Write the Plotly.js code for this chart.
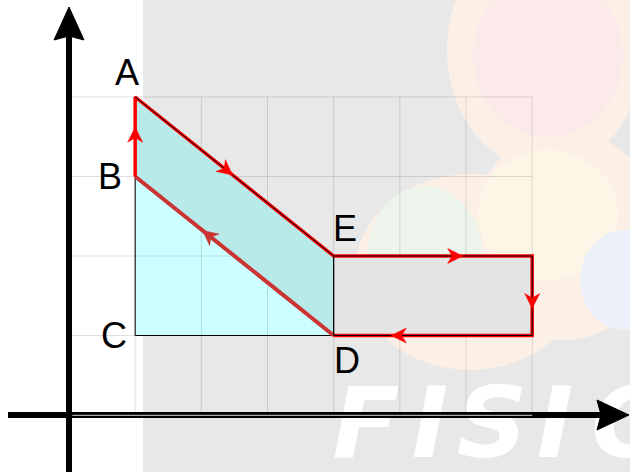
<!DOCTYPE html>
<html>
<head>
<meta charset="utf-8">
<script src="https://cdn.plot.ly/plotly-3.0.1.min.js"></script>
<style>
  html, body { margin: 0; padding: 0; background: #fff; }
  #chart { width: 630px; height: 472px; }
</style>
</head>
<body>
<div id="chart"></div>
<script>
// Cycle B -> A -> E -> F -> G -> D -> back to B (diagram units)
const cycleX = [1, 1, 4, 7, 7, 4];
const cycleY = [3, 4, 2, 2, 1, 1];
// where the direction arrow sits on each leg (fraction of the leg)
const arrowAt = [0.62, 0.49, 0.65, 0.66, 0.71, 0.66];

// labelled states
const labelNames = ['A', 'B', 'C', 'D', 'E'];
const labelX = [1, 1, 1, 4, 4];
const labelY = [4, 3, 1, 1, 2];

// grid
const gridX = [1, 2, 3, 4, 5, 6, 7];
const gridY = [1, 2, 3, 4];

// watermark
const wmLetters = ['F', 'I', 'S', 'I', 'C'];

// page geometry: pixels per unit and where the origin is
const W = 630, H = 472;
const X0 = 69, PX = 66.17, Y0 = 415, PY = 79.5;
const xRange = [-X0 / PX, (W - X0) / PX];
const yRange = [-(H - Y0) / PY, Y0 / PY];

const toX = px => (px - X0) / PX;
const toY = py => (Y0 - py) / PY;

// barbed arrow head, tip at (tx, ty), direction (ux, uy) in screen pixels (y up)
function head(tx, ty, ux, uy, len, half, notch) {
  const n = Math.hypot(ux, uy);
  ux /= n; uy /= n;
  const nx = -uy, ny = ux;
  const pts = [
    [0, 0],
    [-ux * len + nx * half, -uy * len + ny * half],
    [-ux * (len - notch), -uy * (len - notch)],
    [-ux * len - nx * half, -uy * len - ny * half],
    [0, 0]
  ];
  return {
    x: pts.map(p => tx + p[0] / PX),
    y: pts.map(p => ty + p[1] / PY)
  };
}

const idx = name => labelNames.indexOf(name);
const P = name => [labelX[idx(name)], labelY[idx(name)]];
const F = [cycleX[3], cycleY[3]], G = [cycleX[4], cycleY[4]];
const A = P('A'), B = P('B'), C = P('C'), D = P('D'), E = P('E');

const traces = [];

// watermark text (under everything else)
const wmPx = [366, 430, 492, 555, 627];
traces.push({
  x: wmPx.map(toX), y: wmLetters.map(() => toY(432)),
  mode: 'text', text: wmLetters, type: 'scatter', hoverinfo: 'skip',
  textfont: { family: 'DejaVu Sans', size: 98, color: '#ffffff', weight: 'bold', style: 'italic' },
  textposition: 'middle center'
});

// lower region B-C-D
traces.push({
  x: [B[0], C[0], D[0], B[0]], y: [B[1], C[1], D[1], B[1]],
  type: 'scatter', mode: 'lines', fill: 'toself', fillcolor: '#ccffff',
  line: { color: '#000000', width: 1 }, hoverinfo: 'skip'
});

// grid
const gx = [], gy = [];
gridX.forEach(v => { gx.push(v, v, null); gy.push(0, gridY[gridY.length - 1], null); });
gridY.forEach(v => { gx.push(0, gridX[gridX.length - 1], null); gy.push(v, v, null); });
traces.push({
  x: gx, y: gy, type: 'scatter', mode: 'lines',
  line: { color: 'rgba(0,0,0,0.13)', width: 1 }, hoverinfo: 'skip'
});

// parallelogram A-E-D-B
traces.push({
  x: [A[0], E[0], D[0], B[0], A[0]], y: [A[1], E[1], D[1], B[1], A[1]],
  type: 'scatter', mode: 'lines', fill: 'toself', fillcolor: '#b8eaea',
  line: { color: '#000000', width: 1 }, hoverinfo: 'skip'
});

// rectangle E-F-G-D
traces.push({
  x: [E[0], F[0], G[0], D[0], E[0]], y: [E[1], F[1], G[1], D[1], E[1]],
  type: 'scatter', mode: 'lines', fill: 'toself', fillcolor: '#e4e4e4',
  line: { color: '#000000', width: 1 }, hoverinfo: 'skip'
});

// axes
const yTop = toY(7), xRight = toX(629);
traces.push({
  x: [0, 0, null, toX(8), xRight - 20 / PX], y: [yRange[0], yTop - 20 / PY, null, 0, 0],
  type: 'scatter', mode: 'lines', line: { color: '#000000', width: 6 }, hoverinfo: 'skip'
});
[head(0, yTop, 0, 1, 33, 15, 4), head(xRight, 0, 1, 0, 32, 15, 4)].forEach(h => traces.push({
  x: h.x, y: h.y, type: 'scatter', mode: 'lines', fill: 'toself', fillcolor: '#000000',
  line: { color: '#000000', width: 1 }, hoverinfo: 'skip'
}));
// bottom grid line over the x axis
traces.push({
  x: [0.05, gridX[gridX.length - 1]], y: [-0.004, -0.004], type: 'scatter', mode: 'lines',
  line: { color: '#cfcfcf', width: 1 }, hoverinfo: 'skip'
});

// cycle path
const n = cycleX.length;
traces.push({
  x: [cycleX[n - 1], cycleX[0]], y: [cycleY[n - 1], cycleY[0]],
  type: 'scatter', mode: 'lines', line: { color: '#cc3333', width: 4 }, hoverinfo: 'skip'
});
traces.push({
  x: cycleX, y: cycleY, type: 'scatter', mode: 'lines',
  line: { color: '#ff0000', width: 3.5 }, hoverinfo: 'skip'
});
traces.push({
  x: [A[0], E[0], F[0], G[0], D[0], E[0]], y: [A[1], E[1], F[1], G[1], D[1], E[1]],
  type: 'scatter', mode: 'lines', line: { color: '#000000', width: 1 }, hoverinfo: 'skip'
});

for (let i = 0; i < n; i++) {
  const j = (i + 1) % n;
  const f = arrowAt[i];
  const tx = cycleX[i] + (cycleX[j] - cycleX[i]) * f;
  const ty = cycleY[i] + (cycleY[j] - cycleY[i]) * f;
  const h = head(tx, ty, (cycleX[j] - cycleX[i]) * PX, (cycleY[j] - cycleY[i]) * PY, 15, 7.5, 4.5);
  const col = j === 0 ? '#cc3333' : '#ff0000';
  traces.push({
    x: h.x, y: h.y, type: 'scatter', mode: 'lines', fill: 'toself', fillcolor: col,
    line: { color: col, width: 0.5 }, hoverinfo: 'skip'
  });
}

// state labels
const shifts = { A: [-8, 25], B: [-25, 0], C: [-21, 0], D: [13, -25], E: [11, 28] };
const annotations = labelNames.map((name, i) => ({
  x: labelX[i], y: labelY[i], xref: 'x', yref: 'y', text: name, showarrow: false,
  xshift: shifts[name][0], yshift: shifts[name][1],
  font: { family: 'Liberation Sans, Arial, sans-serif', size: 36, color: '#000000' }
}));

// watermark background and logo blobs (screen pixels)
const ell = (cx, cy, rx, ry, color) => ({
  type: 'circle', xref: 'paper', yref: 'paper', layer: 'below',
  x0: (cx - rx) / W, x1: (cx + rx) / W, y0: 1 - (cy + ry) / H, y1: 1 - (cy - ry) / H,
  fillcolor: color, line: { width: 0 }
});
const shapes = [
  { type: 'rect', xref: 'paper', yref: 'paper', layer: 'below', x0: 143 / W, x1: 1, y0: 0, y1: 1,
    fillcolor: '#e8e8e8', line: { width: 0 } },
  ell(545, 50, 98, 120, '#fcf0e6'),
  ell(470, 272, 115, 98, '#fcf0e6'),
  ell(565, 235, 95, 105, '#fcf0e6'),
  ell(548, 55, 75, 82, '#fbeae9'),
  ell(548, 215, 70, 65, '#fdf6e7'),
  ell(425, 258, 58, 72, '#edf4ec'),
  ell(625, 280, 45, 50, '#ecf0f8')
];

const layout = {
  width: W, height: H,
  margin: { t: 0, r: 0, b: 0, l: 0 },
  paper_bgcolor: '#ffffff',
  plot_bgcolor: 'rgba(0,0,0,0)',
  showlegend: false,
  xaxis: { range: xRange, visible: false, fixedrange: true },
  yaxis: { range: yRange, visible: false, fixedrange: true },
  shapes: shapes,
  annotations: annotations
};

Plotly.newPlot('chart', traces, layout, { displayModeBar: false, staticPlot: true });
</script>
</body>
</html>
